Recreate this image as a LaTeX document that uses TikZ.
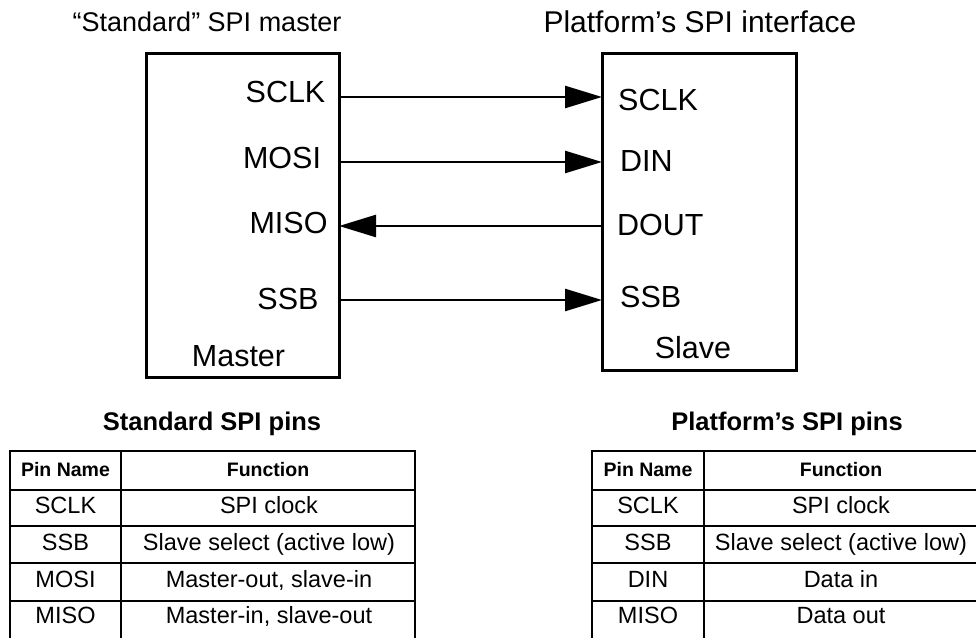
\documentclass[tikz,border=0pt]{standalone}
\usepackage{fontspec}
\setmainfont{Liberation Sans}
\usetikzlibrary{arrows.meta}
\tikzset{
	box/.style={draw, line width=3bp, inner sep=0pt, outer sep=0pt},
	pin/.style={font=\fontsize{30.5bp}{36bp}\selectfont, inner sep=0pt, anchor=base},
	heading/.style={font=\fontsize{27bp}{32bp}\selectfont, inner sep=0pt, anchor=base},
	tabhead/.style={font=\bfseries\fontsize{25.5bp}{30bp}\selectfont, inner sep=0pt, anchor=base},
	colhead/.style={font=\bfseries\fontsize{19.5bp}{24bp}\selectfont, inner sep=0pt, anchor=base},
	cell/.style={font=\fontsize{23.5bp}{28bp}\selectfont, inner sep=0pt, anchor=base},
	sig/.style={line width=2.5bp, -{Triangle[length=37bp,width=22bp]}},
	rule/.style={line width=2.5bp}
}

\begin{document}
\begin{tikzpicture}[x=1bp, y=-1bp]
			%%%%% START %%%%%
			\useasboundingbox (0,0) rectangle (976,638);
			
			\node[heading] (titleM) at (207,32) {“Standard” SPI master};
			\node[heading, font=\fontsize{30bp}{36bp}\selectfont] (titleS) at (700,33) {Platform’s SPI interface};
			
			\node[box, minimum width=193bp, minimum height=323bp] (master) at (242.5,215.5) {};
			\node[box, minimum width=194bp, minimum height=316bp] (slave) at (699,212) {};
			
			\node[pin] (mSCLK) at (285.5,103) {SCLK};
			\node[pin] (mMOSI) at (282,169) {MOSI};
			\node[pin] (mMISO) at (288.5,234) {MISO};
			\node[pin] (mSSB) at (288,309) {SSB};
			\node[pin] (mName) at (238.5,366) {Master};
			
			\node[pin, anchor=base west] (sSCLK) at (618,111) {SCLK};
			\node[pin, anchor=base west] (sDIN) at (620,172) {DIN};
			\node[pin, anchor=base west] (sDOUT) at (617,236) {DOUT};
			\node[pin, anchor=base west] (sSSB) at (620,307) {SSB};
			\node[pin] (sName) at (693,358) {Slave};
			
			\coordinate (ySCLK) at (0,97);
			\coordinate (yMOSI) at (0,162);
			\coordinate (yMISO) at (0,226);
			\coordinate (ySSB) at (0,300);
			
			\draw[sig] (master.east |- ySCLK) -- (slave.west |- ySCLK);
			\draw[sig] (master.east |- yMOSI) -- (slave.west |- yMOSI);
			\draw[sig] (slave.west |- yMISO) -- (master.east |- yMISO);
			\draw[sig] (master.east |- ySSB) -- (slave.west |- ySSB);
			
			%%%%% TABLES %%%%%
			
			\node[tabhead] (tabM) at (212,430) {Standard SPI pins};
			\node[tabhead] (tabS) at (787,430) {Platform’s SPI pins};
			
			\draw[rule] (10,638) -- (10,451) -- (415,451) -- (415,638);
			\draw[rule] (121,451) -- (121,638);
			\draw[rule] (10,490) -- (415,490);
			\draw[rule] (10,526) -- (415,526);
			\draw[rule] (10,563) -- (415,563);
			\draw[rule] (10,601) -- (415,601);
			
			\draw[rule] (592,638) -- (592,451) -- (976,451);
			\draw[rule] (704,451) -- (704,638);
			\draw[rule] (592,490) -- (976,490);
			\draw[rule] (592,526) -- (976,526);
			\draw[rule] (592,563) -- (976,563);
			\draw[rule] (592,601) -- (976,601);
			
			\node[colhead] (mPinH) at (65.5,476) {Pin Name};
			\node[colhead] (mFunH) at (268,476) {Function};
			\node[cell] (mP1) at (65.5,513) {SCLK};
			\node[cell] (mF1) at (269,513) {SPI clock};
			\node[cell] (mP2) at (65.5,550) {SSB};
			\node[cell] (mF2) at (269,550) {Slave select (active low)};
			\node[cell] (mP3) at (65.5,587) {MOSI};
			\node[cell] (mF3) at (269,587) {Master-out, slave-in};
			\node[cell] (mP4) at (65.5,623) {MISO};
			\node[cell] (mF4) at (269,623) {Master-in, slave-out};
			
			\node[colhead] (sPinH) at (648,476) {Pin Name};
			\node[colhead] (sFunH) at (841,476) {Function};
			\node[cell] (sP1) at (648,513) {SCLK};
			\node[cell] (sF1) at (841,513) {SPI clock};
			\node[cell] (sP2) at (648,550) {SSB};
			\node[cell] (sF2) at (841,550) {Slave select (active low)};
			\node[cell] (sP3) at (648,587) {DIN};
			\node[cell] (sF3) at (841,587) {Data in};
			\node[cell] (sP4) at (648,623) {MISO};
			\node[cell] (sF4) at (841,623) {Data out};
			
			%%%%% END %%%%%
\end{tikzpicture}
\end{document}
